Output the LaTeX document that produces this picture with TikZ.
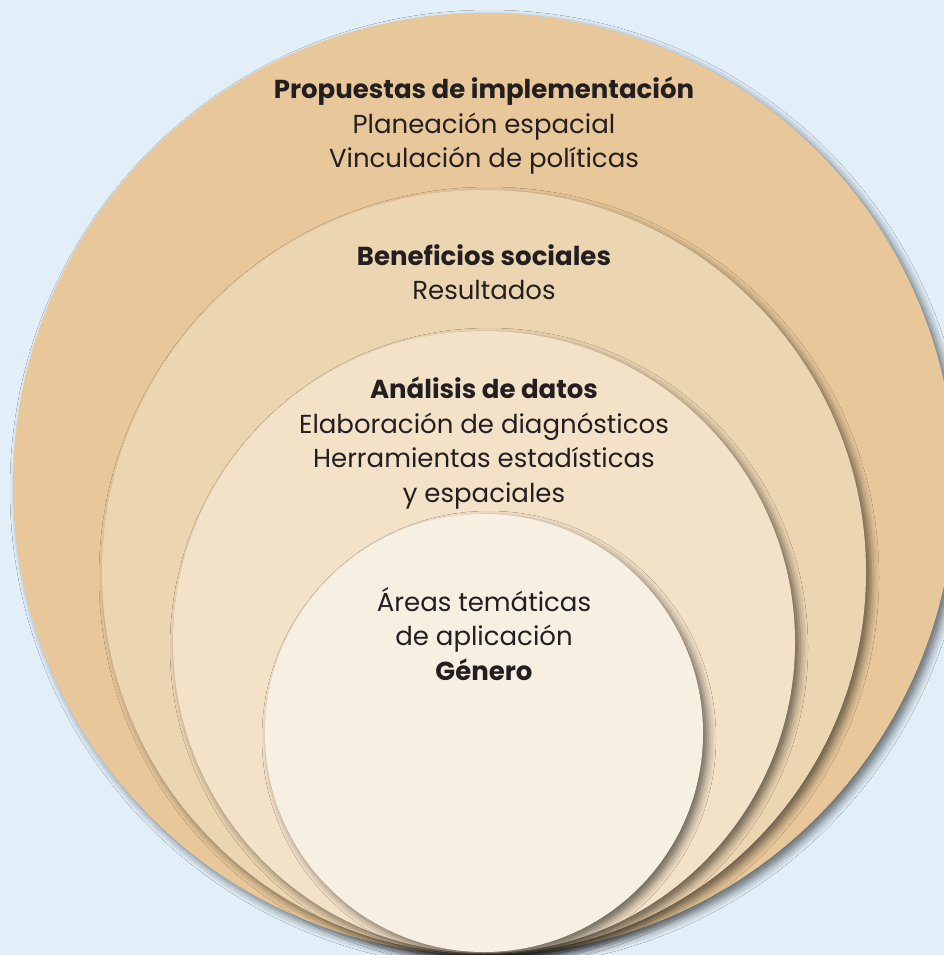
\documentclass[tikz,border=0pt]{standalone}
\usepackage{fontspec}
\setmainfont{Poppins}
\usepackage{xcolor}
\usetikzlibrary{shadows.blur}
\definecolor{sky}{HTML}{E2EFF9}
\definecolor{ring0}{HTML}{E8C89A}
\definecolor{ring1}{HTML}{ECD5B1}
\definecolor{ring2}{HTML}{F3E1C8}
\definecolor{ring3}{HTML}{F8EFE3}
\definecolor{ink}{HTML}{231F20}
\tikzset{ring/.style = {blur shadow={shadow xshift=5pt, shadow yshift=-5pt,
                                     shadow blur radius=8pt, shadow opacity=55}}}
\tikzset{ringtext/.style = {anchor=north, align=center, text=ink, inner sep=0pt,
                            font=\fontsize{26}{34.5}\selectfont}}

\begin{document}
\begin{tikzpicture}[x=1pt,y=-1pt]
		\useasboundingbox (0,0) rectangle (944,955);
		\clip (0,0) rectangle (944,955);
		\fill[sky] (0,0) rectangle (944,955);
		\fill[ring, ring0] (484,484) circle (471pt);
		\fill[ring, ring1] (484,572) circle (382pt);
		\fill[ring, ring2] (484,642) circle (311pt);
		\fill[ring, ring3] (484,733) circle (219pt);
		\node[ringtext] (0) at (484,77) {\textbf{Propuestas de implementación}\\Planeación espacial\\Vinculación de políticas};
		\node[ringtext] (1) at (484,244) {\textbf{Beneficios sociales}\\Resultados};
		\node[ringtext] (2) at (484,377) {\textbf{Análisis de datos}\\Elaboración de diagnósticos\\Herramientas estadísticas\\y espaciales};
		\node[ringtext] (3) at (484,587) {Áreas temáticas\\de aplicación\\\textbf{Género}};
	\end{tikzpicture}
\end{document}
